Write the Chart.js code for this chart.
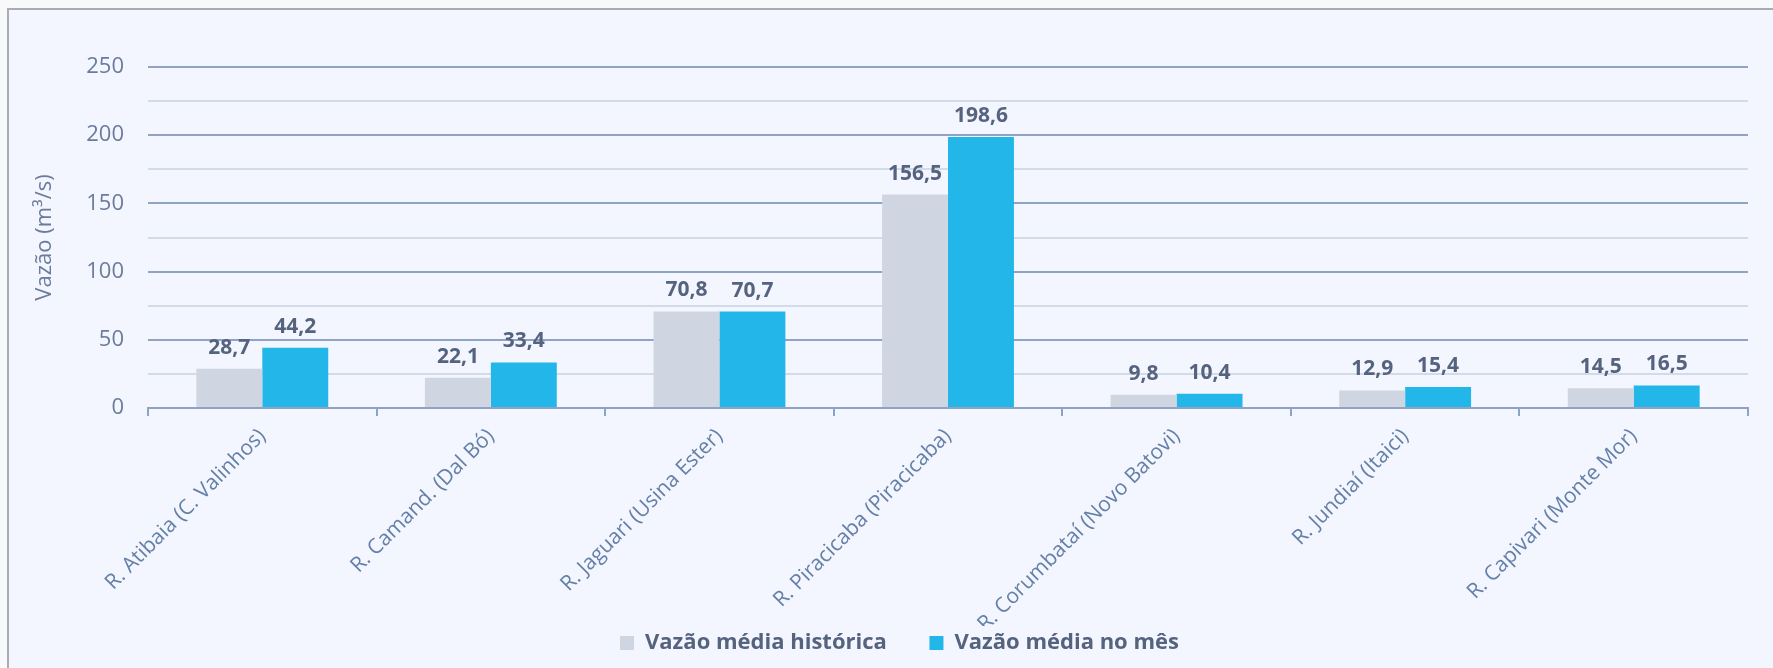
<!DOCTYPE html>
<html lang="pt-BR">
<head>
<meta charset="utf-8">
<title>Vazão média - Bacias PCJ</title>
<script src="https://cdn.jsdelivr.net/npm/chart.js@4.4.1/dist/chart.umd.min.js"></script>
<style>
    html, body {
        margin: 0;
        padding: 0;
        background: #f8f9fb;
        width: 1773px;
        height: 668px;
        overflow: hidden;
    }

    #frame {
        position: absolute;
        left: 7px;
        top: 8px;
        right: 0;
        bottom: 0;
        background: #f3f6fe;
        border-left: 2px solid #a9acb2;
        border-top: 2px solid #a9acb2;
    }

    #flowChart {
        position: absolute;
        left: 0;
        top: 0;
    }
</style>
</head>
<body>
<div id="frame"></div>
<canvas id="flowChart" width="1773" height="668"></canvas>

<script>
"use strict";

// ------------------------------------
// Chart data
// ------------------------------------

const stations = [
    "R. Atibaia (C. Valinhos)",
    "R. Camand. (Dal Bó)",
    "R. Jaguari (Usina Ester)",
    "R. Piracicaba (Piracicaba)",
    "R. Corumbataí (Novo Batovi)",
    "R. Jundiaí (Itaici)",
    "R. Capivari (Monte Mor)"
];

const historicalFlow = [28.7, 22.1, 70.8, 156.5, 9.8, 12.9, 14.5];

const monthFlow = [44.2, 33.4, 70.7, 198.6, 10.4, 15.4, 16.5];

const seriesNames = ["Vazão média histórica", "Vazão média no mês"];

const axisTitle = "Vazão (m³/s)";

// ------------------------------------
// Colours
// ------------------------------------

const grayBar = "#d0d6e1";
const blueBar = "#22b6e9";
const majorGrid = "#8fa3c4";
const minorGrid = "#d3dbe8";
const labelColor = "#6a7b9c";
const valueColor = "#55637f";

/**
 * Writes the value above each bar,
 * using the bar positions Chart.js computed.
 */
const valueLabels = {

    id: "valueLabels",

    afterDatasetsDraw(chart) {

        const ctx = chart.ctx;

        ctx.save();

        ctx.font = "bold 21px 'Open Sans', sans-serif";
        ctx.fillStyle = valueColor;
        ctx.textAlign = "center";
        ctx.textBaseline = "alphabetic";

        chart.data.datasets.forEach((dataset, i) => {

            const meta = chart.getDatasetMeta(i);

            meta.data.forEach((bar, j) => {

                const text = dataset.data[j].toFixed(1).replace(".", ",");

                ctx.fillText(text, bar.x, bar.y - 15);

            });

        });

        ctx.restore();

    }

};

new Chart(document.querySelector("#flowChart"), {

    type: "bar",

    data: {

        labels: stations,

        datasets: [

            {
                label: seriesNames[0],
                data: historicalFlow,
                backgroundColor: grayBar
            },

            {
                label: seriesNames[1],
                data: monthFlow,
                backgroundColor: blueBar
            }

        ]

    },

    options: {

        responsive: false,
        animation: false,
        devicePixelRatio: 1,

        // left padding also pushes the centred legend a bit to the right
        layout: {
            padding: { top: 67, left: 51, right: 25, bottom: 4 }
        },

        datasets: {
            bar: {
                categoryPercentage: 0.577,
                barPercentage: 1.0
            }
        },

        plugins: {

            legend: {
                position: "bottom",
                labels: {
                    boxWidth: 14,
                    boxHeight: 14,
                    padding: 6,
                    color: valueColor,
                    font: {
                        family: "'Open Sans', sans-serif",
                        size: 22,
                        weight: "bold"
                    },
                    // wider gap after the first entry, as in the original
                    generateLabels(chart) {
                        const items = Chart.defaults.plugins.legend.labels.generateLabels(chart);
                        items[0].text += "\u2003\u2002\u2009";
                        return items;
                    }
                }
            },

            tooltip: { enabled: false }

        },

        scales: {

            x: {
                afterFit(scale) {
                    scale.height = 218;
                },
                grid: {
                    drawOnChartArea: false,
                    drawTicks: true,
                    tickLength: 8,
                    color: majorGrid,
                    lineWidth: 2
                },
                border: {
                    color: majorGrid,
                    width: 2
                },
                ticks: {
                    minRotation: 45,
                    maxRotation: 45,
                    padding: 8,
                    color: "#6580a8",
                    font: {
                        family: "'Open Sans', sans-serif",
                        size: 21
                    }
                }
            },

            y: {
                min: 0,
                max: 250,
                afterFit(scale) {
                    scale.width = 97;
                },
                grid: {
                    drawTicks: false,
                    lineWidth: 2,
                    color: ctx => (ctx.tick.value % 50 === 0 ? majorGrid : minorGrid)
                },
                border: {
                    display: false
                },
                ticks: {
                    stepSize: 25,
                    padding: 24,
                    color: labelColor,
                    font: {
                        family: "'Open Sans', sans-serif",
                        size: 22
                    },
                    callback: value => (value % 50 === 0 ? value : "")
                },
                title: {
                    display: true,
                    text: axisTitle,
                    color: labelColor,
                    padding: { top: -19, bottom: 0 },
                    font: {
                        family: "'Open Sans', sans-serif",
                        size: 22
                    }
                }
            }

        }

    },

    plugins: [valueLabels]

});
</script>
</body>
</html>
